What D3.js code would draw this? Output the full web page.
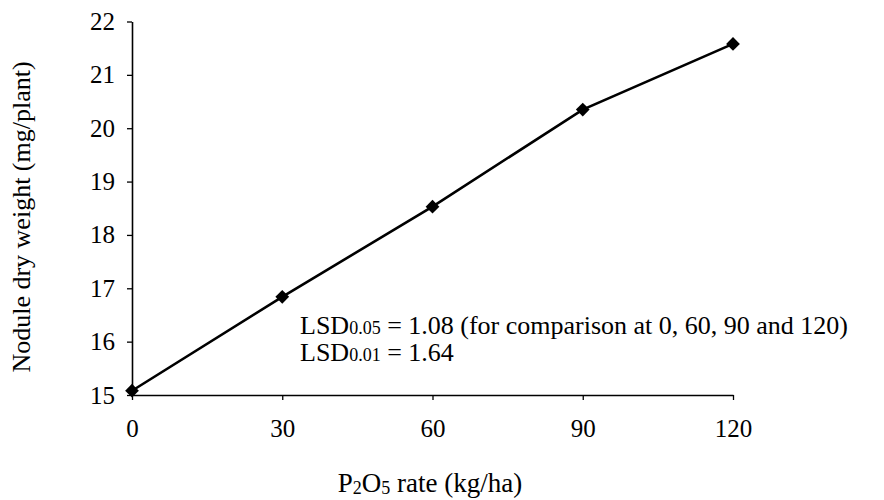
<!DOCTYPE html>
<html>
<head>
<meta charset="utf-8">
<script src="https://cdn.jsdelivr.net/npm/d3@7"></script>
<style>
  body { margin: 0; background: #fff; }
  svg text { font-family: "Liberation Serif", "Times New Roman", serif; fill: #000; }
</style>
</head>
<body>
<svg id="chart" width="884" height="500"></svg>
<script>
// data
const rates = [0, 30, 60, 90, 120];
const noduleWeight = [15.08, 16.84, 18.53, 20.35, 21.58];
const xTicks = [0, 30, 60, 90, 120];
const yTicks = [15, 16, 17, 18, 19, 20, 21, 22];

const svg = d3.select('#chart');
const plotLeft = 132, plotRight = 733, plotTop = 21.5, plotBottom = 395;

const x = d3.scaleLinear().domain([0, 120]).range([plotLeft, plotRight]);
const y = d3.scaleLinear().domain([15, 22]).range([plotBottom, plotTop]);

// x axis
const xAxis = svg.append('g')
    .attr('transform', 'translate(0,' + plotBottom + ')')
    .call(d3.axisBottom(x).tickValues(xTicks).tickFormat(d3.format('d')).tickSize(5).tickSizeOuter(0));
xAxis.select('.domain').attr('stroke', '#000').attr('stroke-width', 1.6);
xAxis.selectAll('.tick line').attr('stroke', '#000').attr('stroke-width', 1.3);
xAxis.selectAll('.tick text').attr('font-size', 25).attr('y', 33).attr('dy', '0.35em');

// y axis
const yAxis = svg.append('g')
    .attr('transform', 'translate(' + plotLeft + ',0)')
    .call(d3.axisLeft(y).tickValues(yTicks).tickFormat(d3.format('d')).tickSize(5).tickSizeOuter(0).tickPadding(12));
yAxis.select('.domain').attr('stroke', '#000').attr('stroke-width', 1.6);
yAxis.selectAll('.tick line').attr('stroke', '#000').attr('stroke-width', 1.3);
yAxis.selectAll('.tick text').attr('font-size', 25);

// the line
const pts = rates.map((r, i) => [r, noduleWeight[i]]);
svg.append('path')
    .datum(pts)
    .attr('fill', 'none')
    .attr('stroke', '#000')
    .attr('stroke-width', 2.6)
    .attr('d', d3.line().x(d => x(d[0])).y(d => y(d[1])));

// diamond markers
svg.selectAll('path.marker')
    .data(pts)
    .enter().append('path')
    .attr('class', 'marker')
    .attr('transform', d => 'translate(' + x(d[0]) + ',' + y(d[1]) + ')')
    .attr('d', d3.symbol().type(d3.symbolDiamond2).size(120))
    .attr('fill', '#000');

// LSD notes
const note1 = svg.append('text').attr('x', 300).attr('y', 334).attr('font-size', 26);
note1.append('tspan').text('LSD');
note1.append('tspan').attr('font-size', 18).text('0.05');
note1.append('tspan').text(' = 1.08 (for comparison at 0, 60, 90 and 120)');

const note2 = svg.append('text').attr('x', 300).attr('y', 361).attr('font-size', 26);
note2.append('tspan').text('LSD');
note2.append('tspan').attr('font-size', 18).text('0.01');
note2.append('tspan').text(' = 1.64');

// axis titles
const xTitle = svg.append('text')
    .attr('x', 430).attr('y', 492)
    .attr('text-anchor', 'middle')
    .attr('font-size', 27);
xTitle.append('tspan').text('P');
xTitle.append('tspan').attr('font-size', 18).attr('dy', 2).text('2');
xTitle.append('tspan').attr('dy', -2).text('O');
xTitle.append('tspan').attr('font-size', 18).attr('dy', 2).text('5');
xTitle.append('tspan').attr('dy', -2).text(' rate (kg/ha)');

svg.append('text')
    .attr('transform', 'translate(30,217) rotate(-90)')
    .attr('text-anchor', 'middle')
    .attr('font-size', 26)
    .text('Nodule dry weight (mg/plant)');
</script>
</body>
</html>
